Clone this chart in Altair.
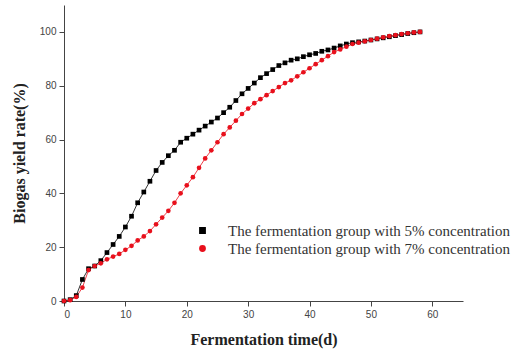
import altair as alt
import pandas as pd

days = list(range(0, 59))
yield_5 = [0, 0.5, 2, 8, 12, 13, 15, 18, 21, 24, 27.5, 31.5, 36.5, 40.5, 44.5, 48.5, 51.5, 54, 56, 59,
           60.5, 62, 63.5, 65, 66.5, 68, 70, 72, 74.5, 77, 79, 81, 83, 84.5, 86, 87.5, 88.5, 89.5, 90, 90.8,
           91.5, 92, 92.8, 93.3, 94, 94.8, 95.5, 96, 96.3, 96.6, 97, 97.4, 97.8, 98.2, 98.6, 99, 99.4, 99.7, 100]
yield_7 = [0, 0.3, 1.5, 5, 11.5, 13, 14, 15.5, 16.5, 17.5, 19, 20.5, 22.5, 24, 26, 28.5, 31, 33.5, 36.5, 40,
           43, 46, 49.5, 53, 56, 59, 62, 64.5, 67, 69.5, 71.5, 73.5, 75, 76.5, 78, 79.5, 81, 82, 83.5, 85,
           86.5, 88, 89.5, 91, 92.5, 93.5, 94.5, 95.5, 96, 96.5, 97, 97.5, 98, 98.4, 98.8, 99.2, 99.5, 99.8, 100]
series_names = ["The fermentation group with 5% concentration",
                "The fermentation group with 7% concentration"]
colors = ["#000000", "#e8101c"]
shapes = ["square", "circle"]

rows = []
for d, v in zip(days, yield_5):
    rows.append({"day": d, "rate": v, "group": series_names[0]})
for d, v in zip(days, yield_7):
    rows.append({"day": d, "rate": v, "group": series_names[1]})
df = pd.DataFrame(rows)

x_enc = alt.X("day:Q", scale=alt.Scale(domain=[0, 65], nice=False, zero=False),
              axis=alt.Axis(title="Fermentation time(d)", values=list(range(0, 66, 5)),
                            labelExpr="datum.value % 10 === 0 ? datum.label : ''",
                            tickSize={"condition": {"test": "datum.value % 10 === 0", "value": 5}, "value": 3},
                            grid=False))
y_enc = alt.Y("rate:Q", scale=alt.Scale(domain=[0, 110], nice=False),
              axis=alt.Axis(title="Biogas yield rate(%)", values=list(range(0, 111, 10)),
                            labelExpr="datum.value % 20 === 0 ? datum.label : ''",
                            tickSize={"condition": {"test": "datum.value % 20 === 0", "value": 5}, "value": 3},
                            grid=False))
color_enc = alt.Color("group:N", scale=alt.Scale(domain=series_names, range=colors),
                      legend=alt.Legend(title=None, orient="none", legendX=131, legendY=218,
                                        labelFont="Liberation Serif",
                                        labelFontSize=15, labelColor="#333", symbolSize=28,
                                        labelOffset=18, rowPadding=2, labelLimit=600))
shape_enc = alt.Shape("group:N", scale=alt.Scale(domain=series_names, range=shapes), legend=None)

base = alt.Chart(df)
lines = base.mark_line(strokeWidth=0.8).encode(x=x_enc, y=y_enc, color=color_enc, detail="group:N")
points = base.mark_point(filled=True, size=22, opacity=1).encode(
    x="day:Q", y="rate:Q",
    color=alt.Color("group:N", legend=None, scale=alt.Scale(domain=series_names, range=colors)),
    shape=shape_enc)

chart = alt.layer(lines, points).properties(
    width=399, height=296,
    autosize=alt.AutoSizeParams(type="none"),
    padding={"left": 64, "top": 5, "right": 60, "bottom": 55},
    background="white",
).configure_view(stroke=None).configure_axis(
    domainColor="#444", tickColor="#444", labelColor="#444",
    labelFont="Liberation Sans", labelFontSize=10,
    titleFont="Liberation Serif", titleFontSize=16, titleFontWeight="bold", titleColor="#222",
    labelPadding=3,
).configure_axisX(titlePadding=12).configure_axisY(titlePadding=12)

chart.save("out.html", embed_options={"renderer": "svg", "actions": False})
